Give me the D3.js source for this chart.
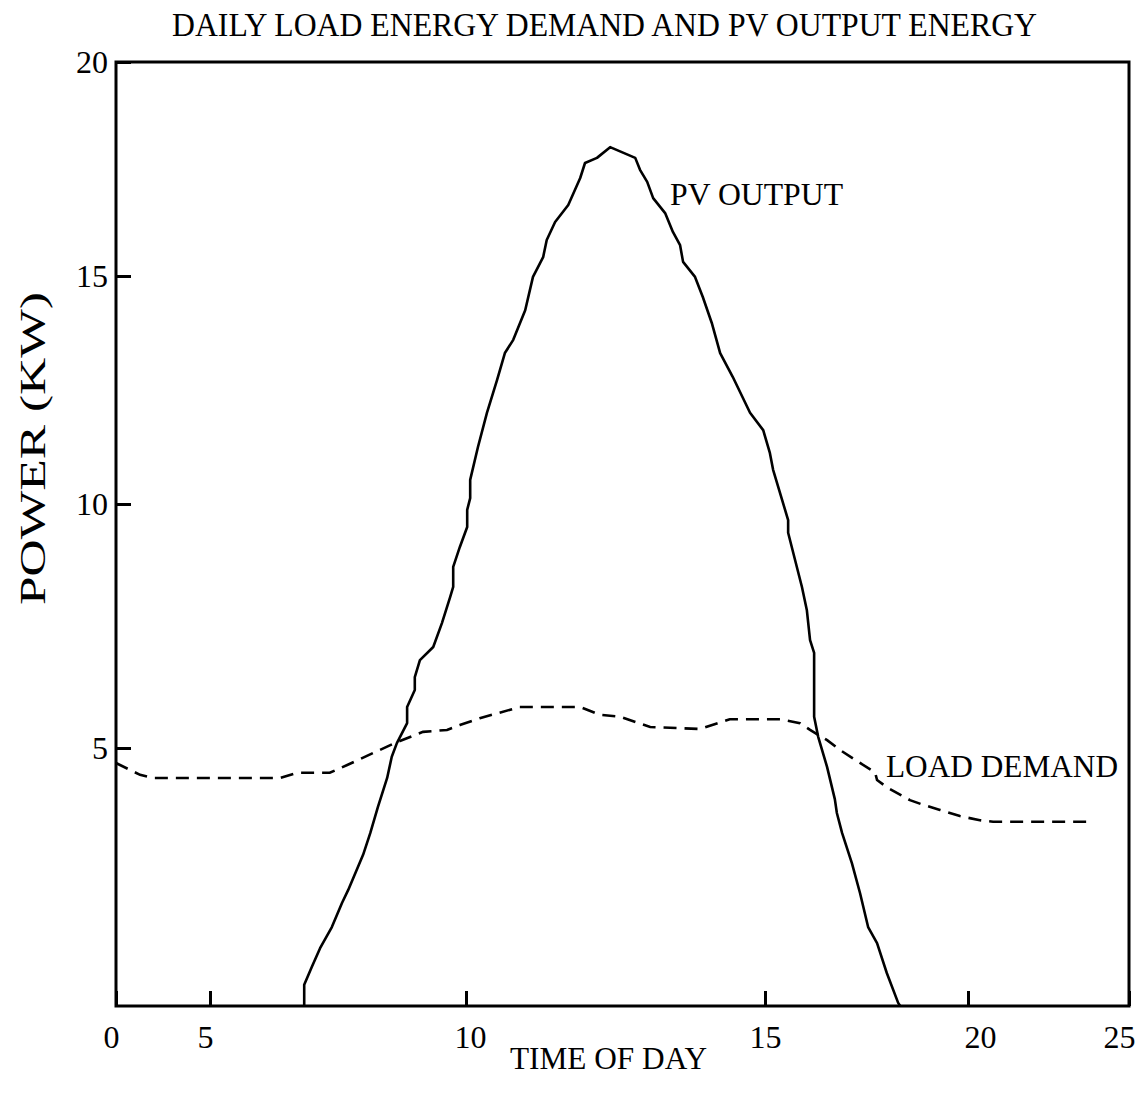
<!DOCTYPE html>
<html>
<head>
<meta charset="utf-8">
<script src="https://cdn.jsdelivr.net/npm/d3@7"></script>
<style>
  body { margin: 0; background: #fff; }
  svg { display: block; }
  svg text { font-family: "Liberation Serif", "Times New Roman", Times, serif; }
</style>
</head>
<body>
<svg id="chart" width="1141" height="1099"></svg>
<script>
// tick values on both axes
const xTicks = [0, 5, 10, 15, 20, 25];
const yTicks = [0, 5, 10, 15, 20];

// PV output (hour of day, kW)
const pvHour = [6.84, 6.84, 6.99, 7.15, 7.38, 7.58, 7.70, 7.99, 8.13, 8.28, 8.46, 8.55, 8.65, 8.85, 8.85,
  9.00, 9.00, 9.10, 9.36, 9.53, 9.69, 9.75, 9.75, 9.88, 10.02, 10.02, 10.07, 10.07, 10.20, 10.35,
  10.52, 10.65, 10.79, 10.99, 11.12, 11.29, 11.35, 11.49, 11.71, 11.91, 11.99, 12.19, 12.41, 12.83,
  12.91, 13.03, 13.13, 13.33, 13.46, 13.58, 13.63, 13.83, 13.96, 14.11, 14.25, 14.46, 14.75, 14.97,
  15.12, 15.20, 15.57, 15.57, 15.91, 16.03, 16.11, 16.21, 16.21, 16.31, 16.53, 16.72, 16.77, 16.90,
  17.14, 17.34, 17.54, 17.76, 18.00, 18.28, 18.33];
const pvPower = [0, 0.41, 0.76, 1.12, 1.53, 2.00, 2.25, 2.93, 3.35, 3.86, 4.42, 4.83, 5.10, 5.51, 5.84,
  6.19, 6.45, 6.80, 7.07, 7.56, 8.09, 8.30, 8.71, 9.12, 9.53, 9.88, 10.13, 10.53, 11.25, 12.00,
  12.72, 13.31, 13.60, 14.25, 14.98, 15.44, 15.84, 16.26, 16.66, 17.29, 17.64, 17.76, 18.01, 17.76,
  17.48, 17.20, 16.82, 16.47, 16.03, 15.72, 15.33, 14.98, 14.54, 13.97, 13.31, 12.79, 12.00, 11.62,
  11.12, 10.75, 9.67, 9.41, 8.30, 7.83, 7.21, 6.95, 5.64, 5.23, 4.63, 4.01, 3.74, 3.35,
  2.77, 2.19, 1.53, 1.22, 0.64, 0.06, 0];

// load demand (hour of day, kW)
const loadHour = [0, 1.28, 1.97, 6.37, 6.70, 7.34, 7.68, 8.18, 8.65, 9.16, 9.63, 9.88, 10.23, 10.90,
  11.91, 12.24, 12.58, 13.08, 13.91, 14.41, 15.37, 15.86, 16.11, 16.53, 16.85, 17.34, 17.71, 17.76,
  18.00, 18.57, 18.89, 19.31, 19.80, 20.37, 20.78, 23.79];
const loadPower = [4.71, 4.48, 4.42, 4.42, 4.52, 4.52, 4.67, 4.90, 5.12, 5.33, 5.37, 5.47, 5.61, 5.84,
  5.84, 5.68, 5.64, 5.43, 5.39, 5.59, 5.59, 5.51, 5.37, 5.16, 4.96, 4.71, 4.53, 4.38,
  4.24, 3.99, 3.90, 3.80, 3.68, 3.60, 3.57, 3.57];

const svg = d3.select('#chart');
const serif = '"Liberation Serif", "Times New Roman", Times, serif';

// the original axes are not evenly spaced, so both scales are piecewise
const x = d3.scaleLinear().domain(xTicks).range([116, 210, 466, 765, 968, 1129]);
const y = d3.scaleLinear().domain(yTicks).range([1006, 748, 504, 276, 62]);

const plotLeft = x(0), plotRight = x(25), plotTop = y(20), plotBottom = y(0);

// frame
svg.append('rect')
  .attr('x', plotLeft).attr('y', plotTop)
  .attr('width', plotRight - plotLeft).attr('height', plotBottom - plotTop)
  .attr('fill', 'none').attr('stroke', '#000').attr('stroke-width', 3);

// y ticks (inward) and labels
const yAxis = svg.append('g')
  .attr('transform', `translate(${plotLeft},0)`)
  .call(d3.axisLeft(y).tickValues(yTicks.filter(d => d > 0)).tickSizeInner(-15).tickSizeOuter(0).tickPadding(8));
yAxis.attr('font-family', serif).attr('font-size', 32);
yAxis.select('.domain').remove();
yAxis.selectAll('line').attr('stroke', '#000').attr('stroke-width', 3);
yAxis.selectAll('text')
  .attr('fill', '#000')
  .attr('dy', '0.34em');

// x ticks (inward) and labels
const xAxis = svg.append('g')
  .attr('transform', `translate(0,${plotBottom})`)
  .call(d3.axisBottom(x).tickValues(xTicks).tickSizeInner(-15).tickSizeOuter(0).tickPadding(19));
xAxis.attr('font-family', serif).attr('font-size', 32);
xAxis.select('.domain').remove();
xAxis.selectAll('line').attr('stroke', '#000').attr('stroke-width', 3);
xAxis.selectAll('text')
  .attr('fill', '#000')
  .attr('dy', '0.71em')
  .attr('text-anchor', d => (d === 25 ? 'end' : 'middle'))
  .attr('dx', d => (d === 25 ? 6 : d === 0 ? -5 : d === 5 ? -5 : d === 10 ? 4 : d === 20 ? 12 : 0));

// curves
const line = d3.line().x(d => x(d[0])).y(d => y(d[1]));

svg.append('path')
  .datum(pvHour.map((h, i) => [h, pvPower[i]]))
  .attr('d', line)
  .attr('fill', 'none').attr('stroke', '#000')
  .attr('stroke-width', 2.6).attr('stroke-linejoin', 'round');

svg.append('path')
  .datum(loadHour.map((h, i) => [h, loadPower[i]]))
  .attr('d', line)
  .attr('fill', 'none').attr('stroke', '#000')
  .attr('stroke-width', 2.6).attr('stroke-dasharray', '13,8');

// text
const txt = (tx, ty, s, size, len) => {
  const t = svg.append('text')
    .attr('x', tx).attr('y', ty)
    .attr('font-family', serif)
    .attr('font-size', size).attr('fill', '#000')
    .text(s);
  if (len) t.attr('textLength', len).attr('lengthAdjust', 'spacingAndGlyphs');
  return t;
};

txt(172, 36, 'DAILY LOAD ENERGY DEMAND AND PV OUTPUT ENERGY', 33, 865);
txt(670, 205, 'PV OUTPUT', 32, 173);
txt(886, 777, 'LOAD DEMAND', 32, 232);
txt(510, 1069, 'TIME OF DAY', 32, 197);
txt(0, 0, 'POWER (KW)', 36, 313)
  .attr('transform', 'translate(45,605) rotate(-90)');
</script>
</body>
</html>
